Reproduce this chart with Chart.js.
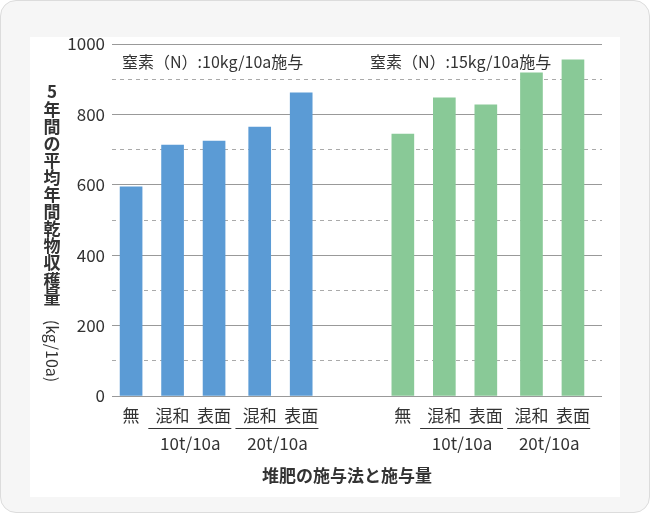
<!DOCTYPE html>
<html>
<head>
<meta charset="utf-8">
<script src="https://cdn.jsdelivr.net/npm/chart.js@4"></script>
<style>
  body { margin: 0; background: #fff; }
  #frame {
    position: relative; width: 648px; height: 511px;
    background: #f6f6f6; border: 1px solid #dcdcdc; border-radius: 16px;
  }
  #card { position: absolute; left: 29px; top: 36px; width: 590px; height: 460px; background: #fff; }
  #wrap { position: absolute; left: -1px; top: -1px; width: 650px; height: 513px; }
</style>
</head>
<body>
<div id="frame">
  <div id="card"></div>
  <div id="wrap"><canvas id="chart"></canvas></div>
</div>
<script>
// DATA
const barLabels = ['無', '混和', '表面', '混和', '表面', '無', '混和', '表面', '混和', '表面'];
const slots = [0, 1, 2, 3.1, 4.1, 6.55, 7.55, 8.55, 9.65, 10.65];
const n10 = [594, 713, 724, 764, 861];
const n15 = [744, 847, 827, 918, 955];
const groupNames = ['10t/10a', '20t/10a', '10t/10a', '20t/10a'];
const groupBars = [[1, 2], [3, 4], [6, 7], [8, 9]];
const notes = ['窒素（N）:10kg/10a施与', '窒素（N）:15kg/10a施与'];
const yTitle = '5年間の平均年間乾物収穫量';
const yUnit = '(kg/10a)';
const xTitle = '堆肥の施与法と施与量';

const FONT = '"Noto Sans CJK JP", "Noto Sans", sans-serif';
const TEXT = '#333';

// DRAW THE EXTRA TEXTS (MULTI LEVEL X LABELS, TITLES, NOTES)
const textPlugin = {
  id: 'texts',
  afterDraw(chart) {
    const ctx = chart.ctx;
    const xs = chart.scales.x;
    ctx.save();
    ctx.fillStyle = TEXT;
    ctx.strokeStyle = TEXT;
    ctx.textBaseline = 'middle';
    ctx.textAlign = 'center';

    ctx.font = '17px ' + FONT;
    barLabels.forEach((lab, i) => {
      ctx.fillText(lab, xs.getPixelForValue(slots[i]), 416);
    });

    groupBars.forEach((g, i) => {
      let mid = (xs.getPixelForValue(slots[g[0]]) + xs.getPixelForValue(slots[g[1]])) / 2;
      ctx.beginPath();
      ctx.lineWidth = 1;
      ctx.moveTo(mid - 45, 428.5);
      ctx.lineTo(mid + 38, 428.5);
      ctx.stroke();
      ctx.fillText(groupNames[i], mid - 3, 444);
    });

    ctx.font = 'bold 17px ' + FONT;
    ctx.fillText(xTitle, 347, 476);

    // vertical y title
    for (let i = 0; i < yTitle.length; i++)
      ctx.fillText(yTitle[i], 52, 92 + i * 17.1);

    ctx.font = '16px ' + FONT;
    ctx.translate(52, 351);
    ctx.rotate(Math.PI / 2);
    ctx.fillText(yUnit, 0, 0);
    ctx.setTransform(1, 0, 0, 1, 0, 0);

    ctx.textAlign = 'left';
    ctx.font = '16px ' + FONT;
    ctx.fillText(notes[0], 122, 62);
    ctx.fillText(notes[1], 370, 62);
    ctx.restore();
  }
};

const ctxChart = document.getElementById('chart');
new Chart(ctxChart, {
  type: 'bar',
  data: {
    datasets: [{
      data: n10.map((v, i) => ({ x: slots[i], y: v })),
      backgroundColor: '#5b9bd5',
      barThickness: 22,
    },
    {
      data: n15.map((v, i) => ({ x: slots[i + 5], y: v })),
      backgroundColor: '#89c997',
      barThickness: 22,
    }]
  },
  options: {
    responsive: true,
    maintainAspectRatio: false,
    animation: false,
    grouped: false,
    layout: { padding: { top: 44, right: 48, bottom: 117, left: 0 } },
    plugins: { legend: { display: false }, tooltip: { enabled: false } },
    scales: {
      x: {
        type: 'linear',
        display: false,
        offset: false,
        min: -0.46,
        max: 11.35,
      },
      y: {
        min: 0,
        max: 1000,
        afterFit: scale => { scale.width = 112; },
        ticks: {
          stepSize: 100,
          padding: 7,
          color: TEXT,
          font: { family: FONT, size: 17 },
          callback: v => (v % 200 === 0 ? v : ''),
        },
        grid: {
          drawTicks: false,
          color: c => (c.tick.value % 200 === 0 ? '#999' : '#aaa'),
          lineWidth: 1,
        },
        border: {
          display: false,
          dash: c => (c.tick && c.tick.value % 200 !== 0 ? [4, 4] : []),
        },
      }
    }
  },
  plugins: [textPlugin]
});
</script>
</body>
</html>
